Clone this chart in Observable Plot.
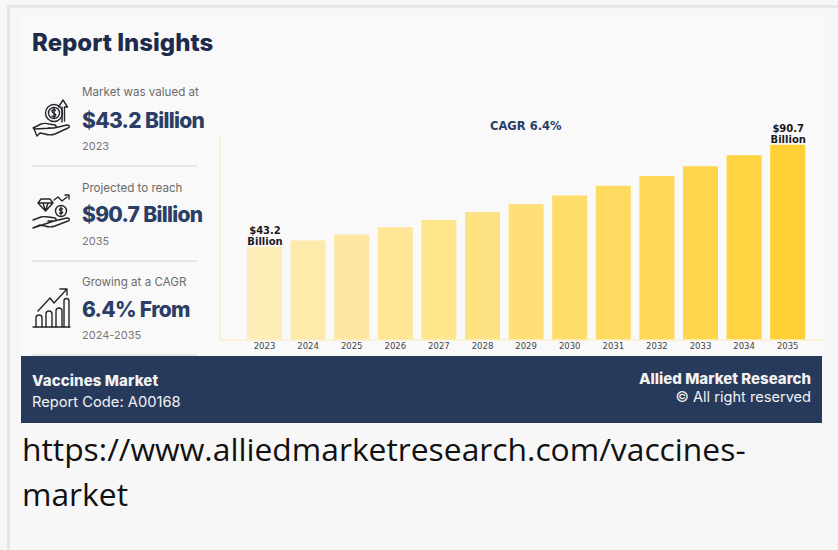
<!DOCTYPE html>
<html>
<head>
<meta charset="utf-8">
<script src="https://cdn.jsdelivr.net/npm/d3@7"></script>
<script src="https://cdn.jsdelivr.net/npm/@observablehq/plot@0.6"></script>
<style>
  html, body { margin: 0; padding: 0; background: #f7f7f7; }
  body { width: 838px; height: 550px; position: relative; overflow: hidden; font-family: Inter, sans-serif; }
  .abs { position: absolute; white-space: nowrap; line-height: 1; }
  #frame { position: absolute; left: 7px; top: 5px; width: 840px; height: 560px; border: 3px solid #e6e6e6; box-sizing: border-box; }
  #card { position: absolute; left: 21px; top: 14px; width: 801px; height: 342px; background: #f9f9fa; }
  #banner { position: absolute; left: 21px; top: 356px; width: 801px; height: 67px; background: #273a5c; }
  .rule { position: absolute; left: 32px; width: 165px; height: 2px; background: #e6e6e6; }
  .lead { left: 82px; font-size: 11.6px; color: #6b6b6b; }
  .big { left: 82px; font-size: 21px; font-weight: 800; color: #2b3f66; letter-spacing: -0.7px; }
  .foot { left: 82px; font-size: 11px; color: #777; }
  .icon { position: absolute; fill: none; stroke: #26262b; stroke-width: 1.4; stroke-linejoin: round; stroke-linecap: round; }
  #chart { position: absolute; left: 219px; top: 120px; }
  #url { position: absolute; left: 22px; top: 426px; width: 790px; font-family: "Open Sans", sans-serif; font-size: 31.8px; line-height: 45px; color: #111; }
</style>
</head>
<body>
<div id="frame"></div>
<div id="card"></div>
<div id="banner"></div>
<div id="panel"></div>

<svg class="icon" style="left:30px;top:98px" width="44" height="42" viewBox="0 0 44 42">
  <circle cx="24" cy="15" r="8.5"/><circle cx="24" cy="15" r="5.5"/>
  <path d="M22 18c2 1.5 4.500 0 3.500-1.500s-3-1.500-3.500-3 2-2.500 3.500-1M24 10v10"/>
  <path d="M32 24V9M28.500 9L33 2l4.500 7h-3v14"/>
  <path d="M3 30l8-4c3-1 5-1 8 0l6 1c2 1 1 3-1 3h-6m6 0l13-3c3 0 3 2 1 3l-13 6c-3 1-7 1-10 0l-5-1l-3 3l-3-7z"/>
</svg>
<svg class="icon" style="left:30px;top:194px" width="44" height="42" viewBox="0 0 44 42">
  <path d="M11 5h9l3 4-7.500 8L8 9zM8 9h15M13 9l2.500 8L18 9"/>
  <circle cx="31" cy="17" r="5.500"/><path d="M29.500 19c1 1 3 .5 3-.8s-3-1-3-2.400 2-1.500 3-.8M31 13v8"/>
  <path d="M24 6l4-3 4 4 5-4M35 1h4v4"/>
  <path d="M3 26l8-3c3-1 5 0 8 0l6 1c2 1 1 3-1 3h-6m6 0l13-3c3 0 3 2 1 3l-13 5c-3 1-7 1-10 0l-5-1l-7 3z"/>
</svg>
<svg class="icon" style="left:31px;top:287px" width="44" height="44" viewBox="0 0 44 44">
  <path d="M2 40h37"/>
  <path d="M5 40V31a2 2 0 0 1 6 0v9M15 40V27a2 2 0 0 1 6 0v13M25 40V24a2 2 0 0 1 6 0v16"/>
  <path d="M33 40V14a2 2 0 0 1 5 0v26"/>
  <path d="M7 24L19 11l4 5L35 3M29 2h7v6"/>
</svg>

<div id="chart"></div>
<div id="url">https://www.alliedmarketresearch.com/vaccines-market</div>

<script>
// Vaccines market size by year, US$ billion
const years = [2023, 2024, 2025, 2026, 2027, 2028, 2029, 2030, 2031, 2032, 2033, 2034, 2035];
const marketValues = [43.2, 46.1, 48.9, 52.3, 55.7, 59.3, 63.0, 67.1, 71.6, 76.1, 80.7, 85.8, 90.7];
const labelledYears = [2023, 2035];
const labelledText = ["$43.2\nBillion", "$90.7\nBillion"];

// Side panel copy
const panelLeads = ["Market was valued at", "Projected to reach", "Growing at a CAGR"];
const panelFigures = ["$43.2 Billion", "$90.7 Billion", "6.4% From"];
const panelFoots = ["2023", "2035", "2024-2035"];

const rows = years.map((year, i) => ({year, value: marketValues[i]}));
const tagged = labelledYears.map((year, i) => ({
  year,
  value: marketValues[years.indexOf(year)],
  text: labelledText[i]
}));

const panel = document.getElementById("panel");
function addText(cls, text, left, top, extra) {
  const el = document.createElement("div");
  el.className = "abs " + cls;
  el.textContent = text;
  el.style.top = top + "px";
  if (left !== null) el.style.left = left + "px";
  Object.assign(el.style, extra || {});
  panel.appendChild(el);
}

addText("", "Report Insights", 32, 30.5, {fontSize: "24px", fontWeight: 800, color: "#1e2a4a"});
const leadTops = [87, 183, 277];
const figureTops = [109.5, 203.5, 298.5];
const footTops = [141, 236, 330];
panelLeads.forEach((t, i) => {
  addText("lead", t, null, leadTops[i]);
  addText("big", panelFigures[i], null, figureTops[i]);
  addText("foot", panelFoots[i], null, footTops[i]);
});
[165, 260, 354].forEach(top => {
  const r = document.createElement("div");
  r.className = "rule";
  r.style.top = top + "px";
  panel.appendChild(r);
});

const white = {color: "#f2f2f2"};
addText("", "Vaccines Market", 32, 372.5, {...white, fontSize: "15px", fontWeight: 800, letterSpacing: "0.1px"});
addText("", "Report Code: A00168", 32, 394.5, {...white, fontSize: "14.7px"});
addText("", "Allied Market Research", null, 371, {...white, fontSize: "15px", fontWeight: 800, right: "27px"});
addText("", "\u00a9 All right reserved", null, 390, {...white, fontSize: "14.6px", right: "27px"});

const axisColor = "#fde9b4";
const chart = Plot.plot({
  width: 603,
  height: 236,
  marginTop: 14,
  marginBottom: 16.5,
  marginLeft: 0.5,
  marginRight: 0,
  style: {background: "transparent", overflow: "visible"},
  x: {type: "band", domain: years, padding: 0.197, round: false, insetLeft: 18.9, insetRight: 8.2, label: null},
  y: {domain: [0, 95.7], axis: null},
  color: {type: "linear", domain: [2023, 2035], range: ["#feedb6", "#ffd136"]},
  marks: [
    Plot.barY(rows, {x: "year", y: "value", fill: "year"}),
    Plot.frame({anchor: "left", stroke: axisColor}),
    Plot.frame({anchor: "bottom", stroke: axisColor}),
    Plot.axisX({
      tickSize: 0,
      tickPadding: 3,
      tickFormat: d => String(d),
      fontSize: 8.5,
      fontFamily: "DejaVu Sans",
      color: "#444",
      dx: -0.5
    }),
    Plot.text(tagged, {
      x: "year",
      y: "value",
      text: "text",
      lineAnchor: "bottom",
      dy: -2.5,
      fontSize: 10,
      fontWeight: 700,
      fontFamily: "DejaVu Sans",
      lineHeight: 1.1,
      fill: "#1a1a1a"
    }),
    Plot.text(["CAGR 6.4%"], {
      frameAnchor: "top-left",
      dx: 270,
      dy: -13,
      fontSize: 11.5,
      fontWeight: 700,
      fontFamily: "DejaVu Sans",
      fill: "#2b3f66"
    })
  ]
});
document.getElementById("chart").appendChild(chart);
</script>
</body>
</html>
